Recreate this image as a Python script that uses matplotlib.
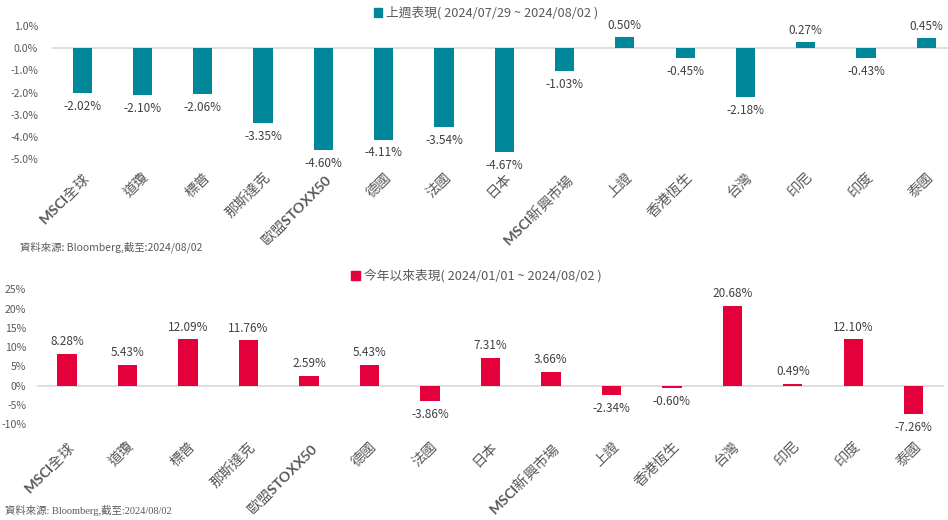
from matplotlib import pyplot as plt
from matplotlib.patches import Rectangle
import numpy as np

plt.rcParams['font.family'] = ['Noto Sans CJK TC', 'DejaVu Sans']
plt.rcParams['mathtext.fontset'] = 'custom'
plt.rcParams['mathtext.bf'] = 'Lato:bold'
plt.rcParams['mathtext.rm'] = 'Noto Sans CJK TC'

markets = [r"$\mathbf{MSCI}$全球", "道瓊", "標普", "那斯達克", r"歐盟$\mathbf{STOXX50}$",
           "德國", "法國", "日本", r"$\mathbf{MSCI}$新興市場", "上證", "香港恆生", "台灣",
           "印尼", "印度", "泰國"]
week_ret = [-2.02, -2.10, -2.06, -3.35, -4.60, -4.11, -3.54, -4.67,
            -1.03, 0.50, -0.45, -2.18, 0.27, -0.43, 0.45]
ytd_ret = [8.28, 5.43, 12.09, 11.76, 2.59, 5.43, -3.86, 7.31,
           3.66, -2.34, -0.60, 20.68, 0.49, 12.10, -7.26]

week_title = "上週表現( 2024/07/29 ~ 2024/08/02 )"
ytd_title = "今年以來表現( 2024/01/01 ~ 2024/08/02 )"
source = "資料來源: Bloomberg,截至:2024/08/02"

teal = "#00879A"
red = "#E4003A"
grey = "#595959"
dark = "#404040"

W, H = 948, 520
fig = plt.figure(figsize=(W / 100, H / 100), dpi=100)


def px_axes(left, top, right, bottom):
    return fig.add_axes([left / W, 1 - bottom / H, (right - left) / W, (bottom - top) / H])


def draw_panel(ax, values, color, ylim, yticks, fmt, label_pad, ypad):
    x = np.arange(len(values))
    ax.bar(x, values, width=0.32, color=color, edgecolor="none")
    ax.axhline(0, color="#d9d9d9", lw=1.2, zorder=0)
    ax.set_xlim(-0.5, len(values) - 0.5)
    ax.set_ylim(*ylim)
    ax.set_yticks(yticks)
    ax.set_yticklabels([fmt(t) for t in yticks], fontsize=7.6, color=grey)
    ax.set_xticks(x)
    ax.set_xticklabels(markets, rotation=45, ha="right", rotation_mode="anchor",
                       fontsize=10.3, color=grey)
    ax.tick_params(axis="both", length=0)
    ax.tick_params(axis="y", pad=ypad)
    ax.tick_params(axis="x", pad=label_pad)
    for s in ax.spines.values():
        s.set_visible(False)
    for xi, v in zip(x, values):
        off = 4 if v >= 0 else -5
        ax.annotate(f"{v:.2f}%", (xi, v), xytext=(0, off), textcoords="offset points",
                    ha="center", va="bottom" if v >= 0 else "top",
                    fontsize=8.5, color=dark)


# top: weekly
ax1 = px_axes(52, 26, 956.5, 159.3)
draw_panel(ax1, week_ret, teal, (-5.0, 1.0), np.arange(-5, 1.01, 1),
           lambda t: f"{t:.1f}%", 8, 10)
ax1.legend([Rectangle((0, 0), 1, 1, color=teal)], [week_title], loc="center",
           bbox_to_anchor=(486 / W, 1 - 13 / H), bbox_transform=fig.transFigure,
           frameon=False, fontsize=9.2, labelcolor=grey, handlelength=0.7,
           handleheight=0.7, handletextpad=0.3)

# bottom: year to date
ax2 = px_axes(36.75, 289.3, 944, 424.3)
draw_panel(ax2, ytd_ret, red, (-10, 25), np.arange(-10, 26, 5),
           lambda t: f"{t:.0f}%", 11, 7.5)
ax2.legend([Rectangle((0, 0), 1, 1, color=red)], [ytd_title], loc="center",
           bbox_to_anchor=(476 / W, 1 - 276 / H), bbox_transform=fig.transFigure,
           frameon=False, fontsize=9.2, labelcolor=grey, handlelength=0.7,
           handleheight=0.7, handletextpad=0.3)

fig.text(20 / W, 1 - 247 / H, source, fontsize=7.5, color=grey, va="center")
fig.text(5 / W, 1 - 510 / H, source, fontsize=7.5, color=grey, va="center",
         family=["Liberation Serif", "Noto Sans CJK TC"])

fig.savefig("out.png", dpi=100)
